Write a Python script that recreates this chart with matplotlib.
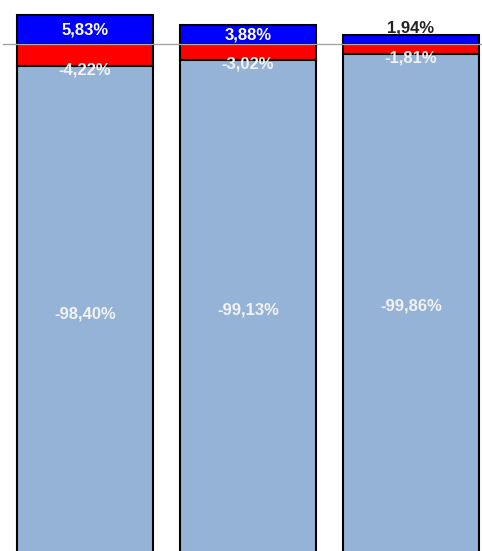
import matplotlib.pyplot as plt
import numpy as np

plt.rcParams['font.family'] = ['Liberation Sans', 'DejaVu Sans']

# three groups: gain on top, loss below zero, remaining base share
gains = [5.83, 3.88, 1.94]
losses = [-4.22, -3.02, -1.81]
base = [-98.40, -99.13, -99.86]

def fmt(v):
    return ('%.2f%%' % v).replace('.', ',')

fig = plt.figure(figsize=(4.82, 5.51), dpi=100)
ax = fig.add_axes([0, 0, 1, 1])

x = np.arange(len(gains))
w = 0.834
ax.bar(x, gains, w, color='#0000FF', edgecolor='black', linewidth=1.5, zorder=2)
ax.bar(x, losses, w, color='#FF0000', edgecolor='black', linewidth=1.5, zorder=2)
ax.bar(x, base, w, bottom=losses, color='#95B3D7', edgecolor='black', linewidth=1.5, zorder=2)

ax.axhline(0, xmin=3 / 482, xmax=1, color='#A6A6A6', linewidth=1, zorder=3)

lab = dict(fontsize=12, fontweight='bold', ha='center', va='center', zorder=4)
for i in range(len(gains)):
    if gains[i] > 3:
        ax.text(x[i], gains[i] / 2, fmt(gains[i]), color='white', **lab)
    else:
        ax.annotate(fmt(gains[i]), (x[i], gains[i]), xytext=(0, 5),
                    textcoords='offset points', color='#222222', **lab)
    ax.annotate(fmt(losses[i]), (x[i], losses[i]), xytext=(0, -3),
                textcoords='offset points', color='#F2F2F2', **lab)
    ax.text(x[i], losses[i] + base[i] / 2, fmt(base[i]), color='#F2F2F2', **lab)

ax.set_xlim(-85 / 163, 397 / 163)
ax.set_ylim(8.81 - 551 / 5.05, 8.81)
ax.axis('off')

fig.savefig('out.png', dpi=100)
